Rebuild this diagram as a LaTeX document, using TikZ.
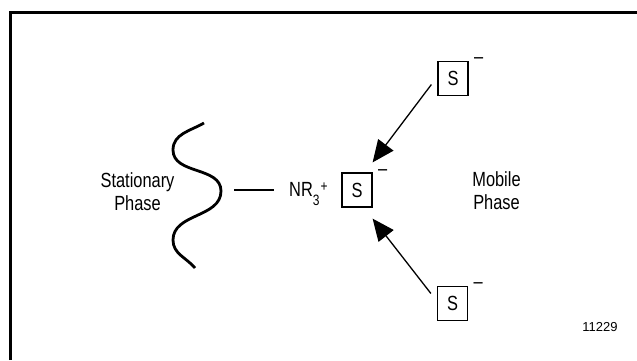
\documentclass[tikz,border=0pt]{standalone}
\usepackage{fontspec}
\setmainfont{Liberation Sans}[FakeStretch=0.8]
\newfontfamily\numfont{Liberation Sans}
\usetikzlibrary{arrows.meta,calc}

\begin{document}
\begin{tikzpicture}[x=1pt,y=1pt,
    txt/.style={font=\fontsize{20.5}{23}\selectfont},
    ion/.style={txt, draw, line width=1.2pt, minimum width=30pt, minimum height=34pt, inner sep=0pt,
      label={[txt, anchor=center, label distance=0pt, xshift=10pt]north east:{–}}},
    phase/.style={txt, align=center},
    arr/.style={line width=1.3pt, -{Triangle[length=22pt,width=19pt]}}]
  \useasboundingbox (0,0) rectangle (637,360);
  % frame
  \draw[line width=3pt] (10,0) -- (10,348) -- (637,348);
  % stationary phase surface
  \draw[line width=2.8pt] (204,237) to[out=210,in=90] (173,210) to[out=-90,in=90] (221,169)
    to[out=-90,in=90] (173,120) to[out=-90,in=130] (195,92);
  \node[phase] (stat) at (137.5,168.5) {Stationary\\Phase};
  \node[phase] (mob) at (496.5,169) {Mobile\\Phase};
  % exchange site
  \coordinate (bond) at (234,170);
  \node[txt, anchor=base west, inner sep=0pt] (nr) at (289,164)
    {NR\raisebox{-9pt}{\fontsize{15}{15}\selectfont 3}\kern1pt\raisebox{5pt}{\fontsize{15}{15}\selectfont +}};
  \draw[line width=1.2pt] (bond) -- ($(bond -| nr.west)+(-15,0)$);
  % sample ions
  \node[ion] (smid) at (357,170) {S};
  \node[ion] (stop) at (453,281.5) {S};
  \node[ion] (sbot) at (452.5,56.5) {S};
  \draw[arr] ([shift={(-6,-6)}]stop.west) -- ([yshift=10pt]smid.north east);
  \draw[arr] ([shift={(-6,10)}]sbot.west) -- ([yshift=-11pt]smid.south east);
  \node[anchor=base, font=\numfont\fontsize{13}{13}\selectfont] (fig) at (600,29) {11229};
\end{tikzpicture}
\end{document}
